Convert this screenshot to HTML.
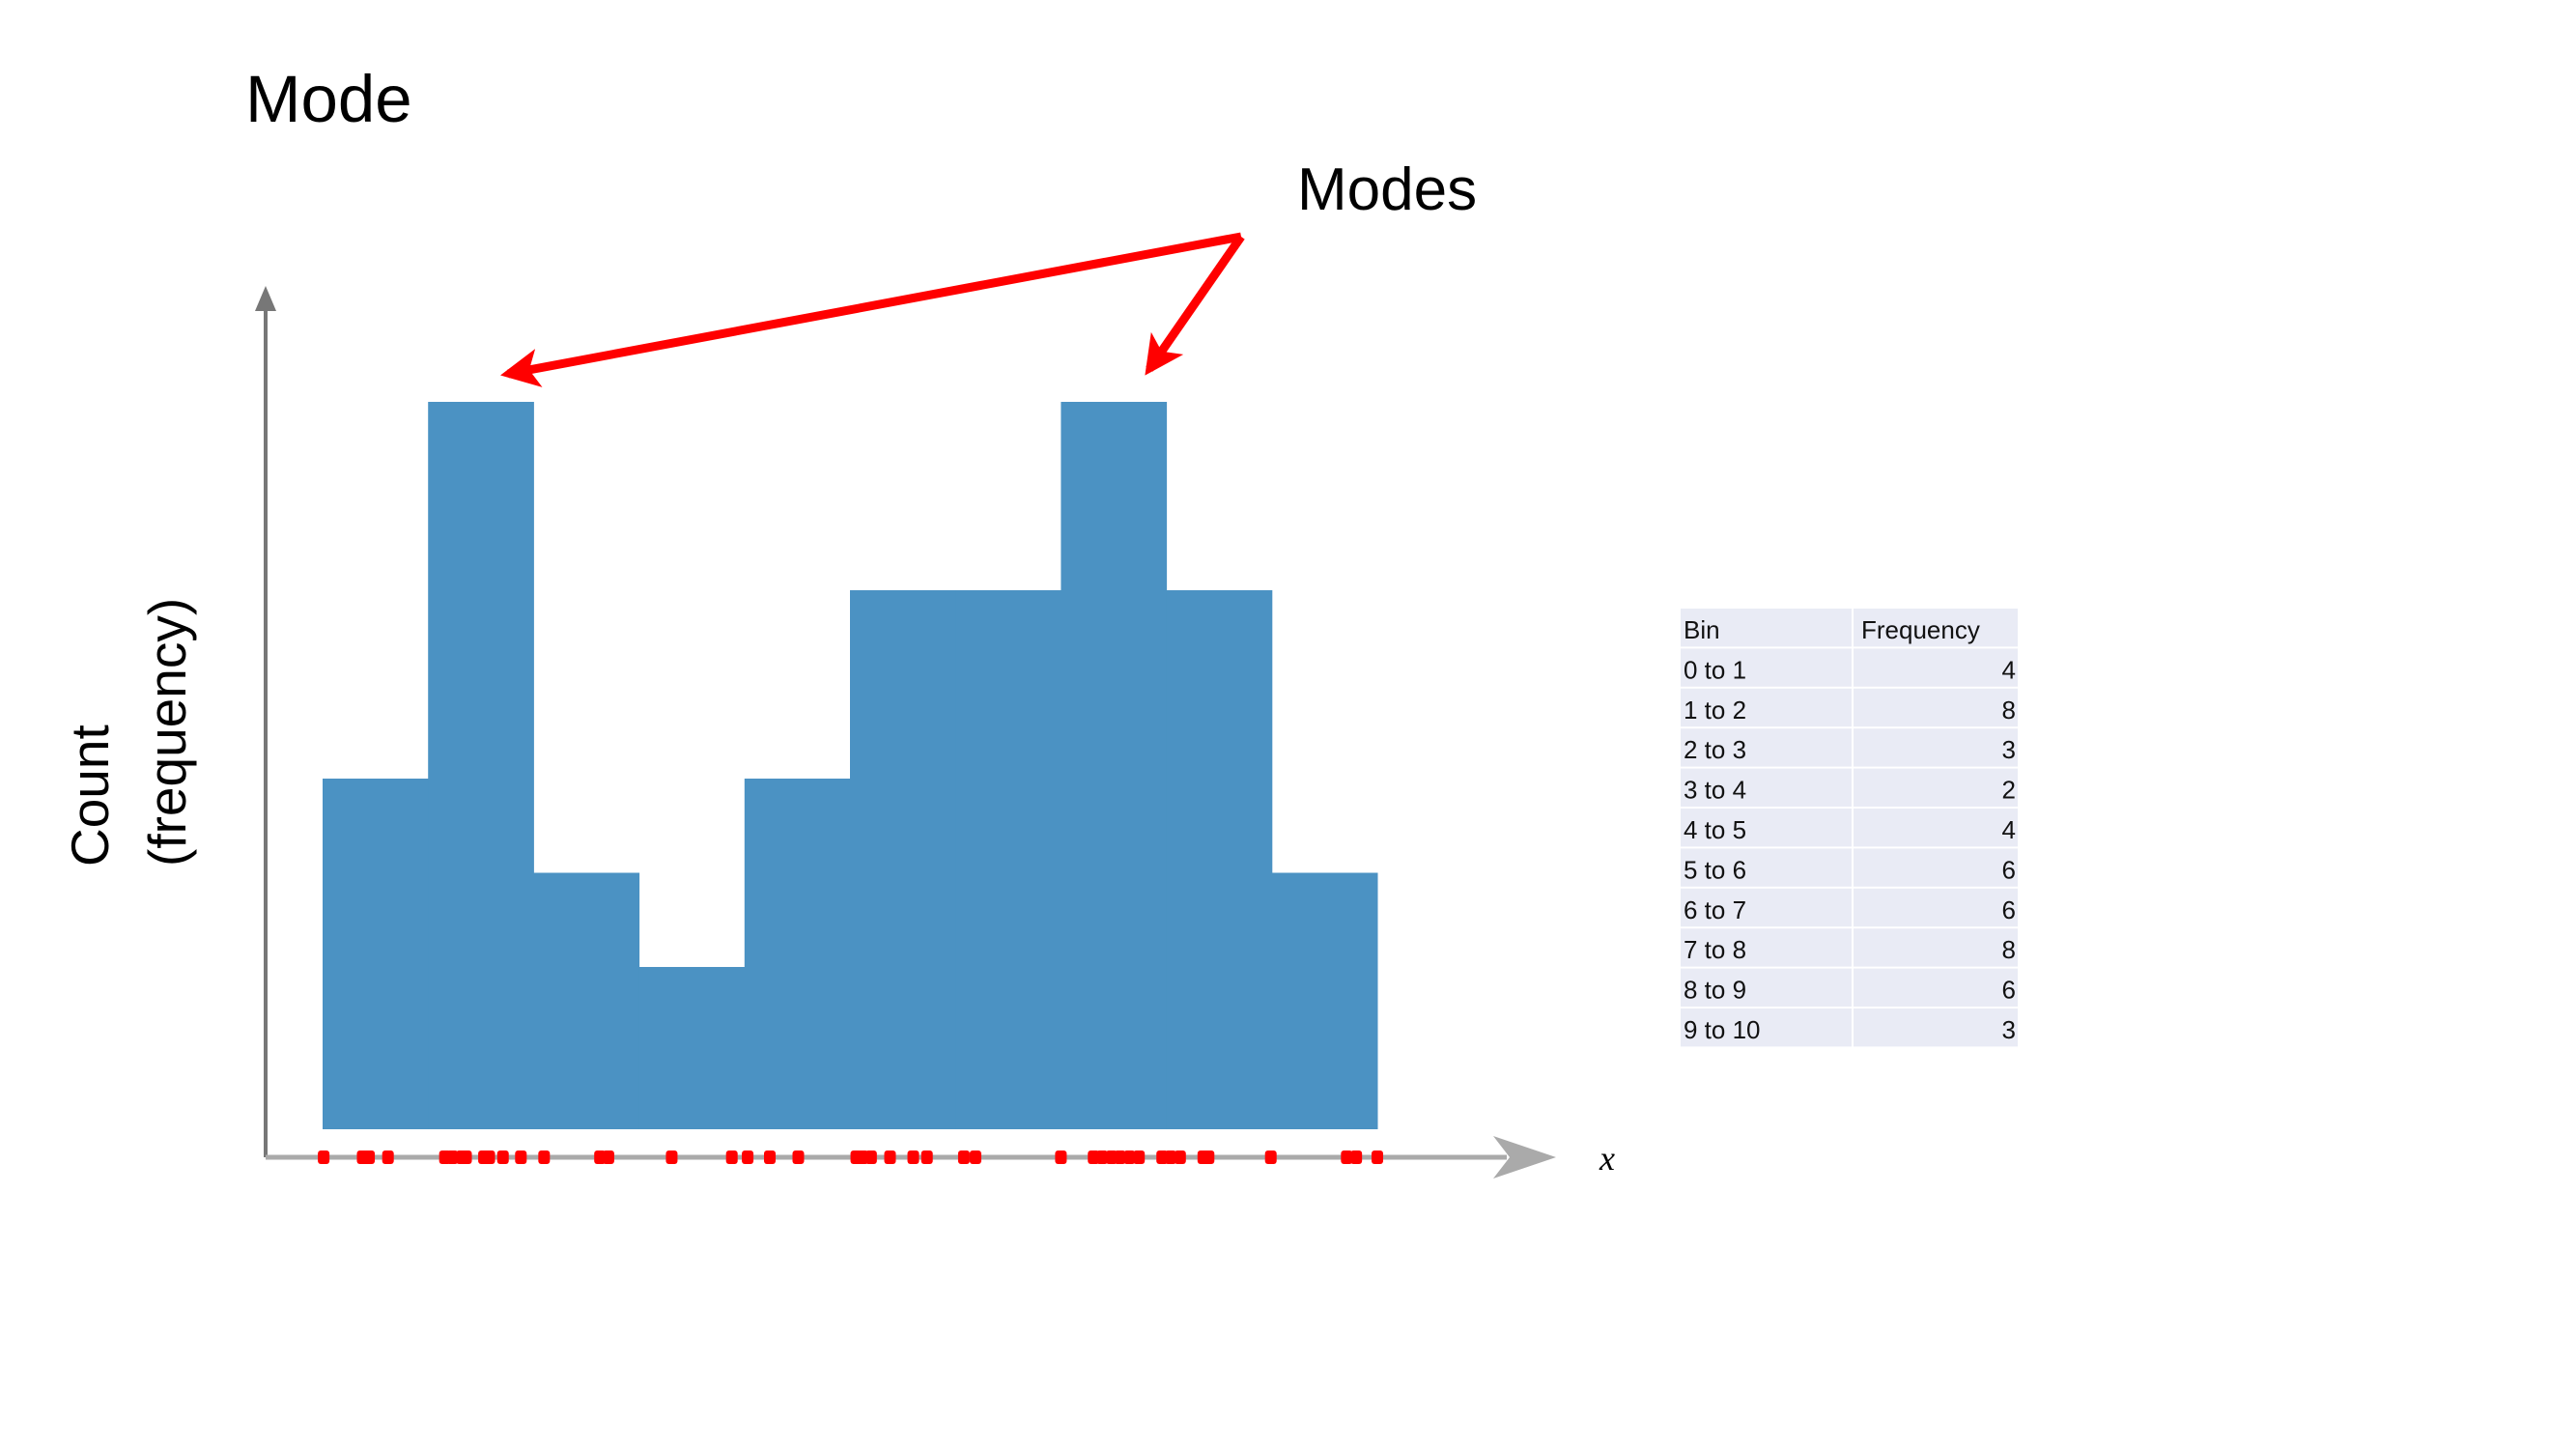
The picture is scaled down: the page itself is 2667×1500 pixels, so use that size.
<!DOCTYPE html>
<html><head><meta charset="utf-8"><style>
html,body{margin:0;padding:0;background:#fff;}
svg{display:block;font-family:"Liberation Sans",sans-serif;}
</style></head><body>
<svg id="chart" width="2667" height="1500" viewBox="0 0 2667 1500" xmlns="http://www.w3.org/2000/svg">
<defs>
<marker id="redhead" viewBox="0 0 10 10" refX="8" refY="5" markerWidth="4.5" markerHeight="4.5" orient="auto-start-reverse" markerUnits="strokeWidth"><path d="M0,0 L10,5 L0,10 L2.5,5 Z" fill="#ff0000"/></marker>
</defs>
<text x="254" y="126" font-size="69" fill="#000">Mode</text>
<text x="1343" y="217" font-size="62" fill="#000">Modes</text>
<g transform="translate(112,897) rotate(-90)">
<text x="0" y="0" font-size="55" fill="#000">Count</text>
<text x="0" y="80" font-size="55" fill="#000">(frequency)</text>
</g>
<g id="bars"></g>
<line x1="275" y1="1198" x2="275" y2="312" stroke="#777" stroke-width="4"/>
<polygon points="275,296 264,322 286,322" fill="#777"/>
<line x1="275" y1="1198" x2="1560" y2="1198" stroke="#aaa" stroke-width="5"/>
<polygon points="1546,1176 1611,1198 1546,1220 1563,1198" fill="#aaa"/>
<text x="1656" y="1211" font-size="36" font-style="italic" font-family="Liberation Serif, serif" fill="#000">x</text>
<g id="dots"></g>
<g stroke="#ff0000" stroke-width="9" fill="none">
<line x1="1285" y1="245" x2="526" y2="387" marker-end="url(#redhead)"/>
<line x1="1285" y1="245" x2="1190" y2="382" marker-end="url(#redhead)"/>
</g>
<g id="table"></g>
</svg>
<script>
const bins = ["0 to 1","1 to 2","2 to 3","3 to 4","4 to 5","5 to 6","6 to 7","7 to 8","8 to 9","9 to 10"];
const freqs = [4,8,3,2,4,6,6,8,6,3];
const points = [0.01,0.38,0.44,0.62,1.16,1.23,1.32,1.36,1.53,1.58,1.71,1.88,2.10,2.63,2.71,3.31,3.88,4.03,4.24,4.51,5.06,5.12,5.20,5.38,5.60,5.73,6.08,6.19,7.0,7.31,7.39,7.48,7.56,7.65,7.74,7.96,8.04,8.13,8.35,8.40,8.99,9.71,9.80,10.0];
const NS="http://www.w3.org/2000/svg";
function xs(v){return 334+109.2*v;}
function ys(v){return 1169-97.5*(v-0.277);}
const bg=document.getElementById('bars');
freqs.forEach((f,i)=>{
  const r=document.createElementNS(NS,'rect');
  
  
  r.setAttribute('x',xs(i));r.setAttribute('width',xs(i+1)-xs(i)+0.5);
  r.setAttribute('y',ys(f));r.setAttribute('height',ys(0.277)-ys(f));
  r.setAttribute('fill','#4b92c3');
  bg.appendChild(r);
});
const dg=document.getElementById('dots');
points.forEach(p=>{
  const r=document.createElementNS(NS,'rect');
  
  
  r.setAttribute('x',xs(p)-6);r.setAttribute('y',1191);
  r.setAttribute('width',12);r.setAttribute('height',14);r.setAttribute('rx',3);
  r.setAttribute('fill','#ff0000');
  dg.appendChild(r);
});
const tg=document.getElementById('table');
const rowH=41.4, tblTop=630, tL=1740, tM=1918, tR=2089;
function cell(x,y,w,h){const r=document.createElementNS(NS,'rect');r.setAttribute('x',x);r.setAttribute('y',y);r.setAttribute('width',w);r.setAttribute('height',h);r.setAttribute('fill','#e9ebf5');return r;}
function txt(s,x,y,anchor){const t=document.createElementNS(NS,'text');t.textContent=s;t.setAttribute('x',x);t.setAttribute('y',y);t.setAttribute('font-size','26');t.setAttribute('fill','#111');if(anchor)t.setAttribute('text-anchor',anchor);return t;}
const rows=[["Bin","Frequency"]].concat(bins.map((b,i)=>[b,String(freqs[i])]));
rows.forEach((row,i)=>{
  const g=document.createElementNS(NS,'g');
  
  
  const y=tblTop+i*rowH;
  g.appendChild(cell(tL,y,tM-tL-1,rowH-2));
  g.appendChild(cell(tM+1,y,tR-tM-1,rowH-2));
  g.appendChild(txt(row[0],tL+3,y+31));
  if(i===0) g.appendChild(txt(row[1],tM+9,y+31));
  else g.appendChild(txt(row[1],tR-2,y+31,'end'));
  tg.appendChild(g);
});
</script>
</body></html>
